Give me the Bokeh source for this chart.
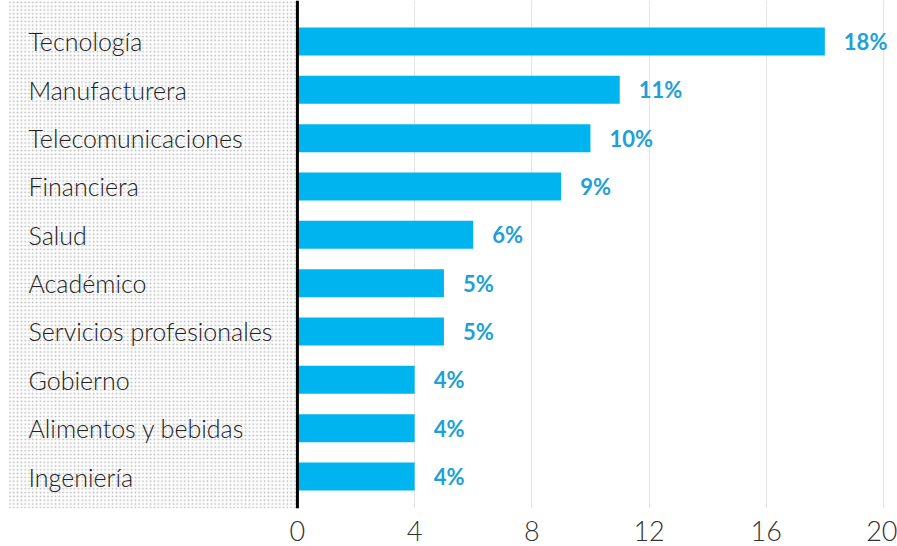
from bokeh.plotting import figure
from bokeh.models import ColumnDataSource, Range1d, FixedTicker, BoxAnnotation, Span
from bokeh.core.properties import value
from bokeh.embed import file_html
from bokeh.resources import INLINE

categories = ["Tecnología", "Manufacturera", "Telecomunicaciones", "Financiera", "Salud",
              "Académico", "Servicios profesionales", "Gobierno", "Alimentos y bebidas", "Ingeniería"]
values = [18, 11, 10, 9, 6, 5, 5, 4, 4, 4]
x_ticks = [0, 4, 8, 12, 16, 20]

idx = list(range(len(categories)))
src = ColumnDataSource(dict(
    y=idx,
    v=values,
    cat=categories,
    lab=[f"{v}%" for v in values],
))

X0 = -9.86
p = figure(width=897, height=546, output_backend="svg", toolbar_location=None,
           x_range=Range1d(X0, 20.24), y_range=Range1d(9.662, -0.848),
           min_border_left=8, min_border_right=7, min_border_top=0, min_border_bottom=38)
p.outline_line_color = None
p.background_fill_color = "white"

# dotted panel behind category labels
p.add_layout(BoxAnnotation(right=0, fill_alpha=0, line_alpha=0,
                           hatch_pattern="dot", hatch_color="#bdbdbd",
                           hatch_scale=3.8, hatch_weight=1, level="underlay"))

p.hbar(y="y", right="v", left=0, height=0.58, source=src,
       fill_color="#00b5ef", line_color=None)

p.add_layout(Span(location=0, dimension="height", line_color="black", line_width=3))

p.text(x=X0, y="y", text="cat", source=src, x_offset=20,
       text_baseline="middle", text_align="left",
       text_font=value("Lato Light"), text_font_size="25px", text_color="#222222")

p.text(x="v", y="y", text="lab", source=src, x_offset=19,
       text_baseline="middle", text_align="left",
       text_font=value("Lato"), text_font_style="bold", text_font_size="22px",
       text_color="#21a0d8")

p.xaxis.ticker = FixedTicker(ticks=x_ticks)
p.xaxis.axis_line_color = None
p.xaxis.major_tick_line_color = None
p.xaxis.minor_tick_line_color = None
p.xaxis.major_label_text_font = "Lato Light"
p.xaxis.major_label_text_font_size = "27px"
p.xaxis.major_label_text_color = "#333333"
p.xaxis.major_label_standoff = 6

p.yaxis.visible = False
p.xgrid.ticker = FixedTicker(ticks=x_ticks)
p.xgrid.grid_line_color = "#e4e4e4"
p.xgrid.grid_line_width = 1
p.ygrid.grid_line_color = None

open("out.html", "w").write(file_html(p, INLINE))
